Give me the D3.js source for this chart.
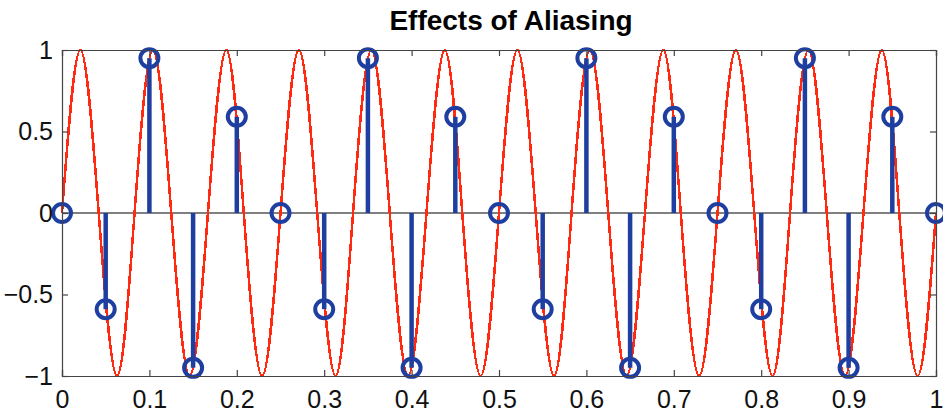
<!doctype html>
<html>
  <head>
    <style>
      body { margin: 0; background: white; }
      text { font-family: "Liberation Sans", Helvetica, Arial, sans-serif; }
      .tick text { font-size: 25px; fill: #111; }
    </style>
    <script src="https://d3js.org/d3.v7.min.js"></script>
  </head>
  <body>
    <div id="chart"></div>
    <script>
      var width = 943, height = 413;
      var margin = {top: 50, right: 7, bottom: 37, left: 62};

      // sampled signal (stems), every 0.05 s
      var sampleT = [0, 0.05, 0.1, 0.15, 0.2, 0.25, 0.3, 0.35, 0.4, 0.45, 0.5,
                     0.55, 0.6, 0.65, 0.7, 0.75, 0.8, 0.85, 0.9, 0.95, 1];
      var sampleY = [0, -0.59, 0.95, -0.95, 0.59, 0, -0.59, 0.95, -0.95, 0.59, 0,
                     -0.59, 0.95, -0.95, 0.59, 0, -0.59, 0.95, -0.95, 0.59, 0];

      // red wave: crests, troughs and zero crossings
      var waveT = [0, 0.021, 0.042, 0.063, 0.083, 0.104, 0.125, 0.146, 0.167, 0.188,
                   0.208, 0.229, 0.25, 0.271, 0.292, 0.313, 0.333, 0.354, 0.375, 0.396,
                   0.417, 0.438, 0.458, 0.479, 0.5, 0.521, 0.542, 0.563, 0.583, 0.604,
                   0.625, 0.646, 0.667, 0.688, 0.708, 0.729, 0.75, 0.771, 0.792, 0.813,
                   0.833, 0.854, 0.875, 0.896, 0.917, 0.938, 0.958, 0.979, 1];
      var waveY = [0, 1, 0, -1, 0, 1, 0, -1, 0, 1,
                   0, -1, 0, 1, 0, -1, 0, 1, 0, -1,
                   0, 1, 0, -1, 0, 1, 0, -1, 0, 1,
                   0, -1, 0, 1, 0, -1, 0, 1, 0, -1,
                   0, 1, 0, -1, 0, 1, 0, -1, 0];

      var xTicks = [0, 0.1, 0.2, 0.3, 0.4, 0.5, 0.6, 0.7, 0.8, 0.9, 1];
      var xTickLabels = ["0", "0.1", "0.2", "0.3", "0.4", "0.5", "0.6", "0.7", "0.8", "0.9", "1"];
      var yTicks = [-1, -0.5, 0, 0.5, 1];
      var yTickLabels = ["\u22121", "\u22120.5", "0", "0.5", "1"];

      var red = "#ff2a10", blue = "#1f3fa0";

      var svg = d3.select("#chart").append("svg")
                  .attr("width", width)
                  .attr("height", height);

      var x = d3.scaleLinear().domain([0, 1]).range([margin.left, width - margin.right]);
      var y = d3.scaleLinear().domain([-1, 1]).range([height - margin.bottom, margin.top]);

      // title
      svg.append("text")
         .attr("x", (x(0) + x(1)) / 2 + 12)
         .attr("y", 30)
         .attr("text-anchor", "middle")
         .style("font-size", "28px")
         .style("font-weight", "bold")
         .text("Effects of Aliasing");

      // zero baseline of the stems
      svg.append("line")
         .attr("x1", x(0)).attr("x2", x(1))
         .attr("y1", y(0)).attr("y2", y(0))
         .attr("stroke", "#000").attr("stroke-width", 1);

      // red wave
      var wave = d3.line()
                   .x(function(d, i) { return x(waveT[i]); })
                   .y(function(d) { return y(d); })
                   .curve(d3.curveNatural);
      svg.append("path")
         .attr("d", wave(waveY))
         .attr("fill", "none")
         .attr("stroke", red)
         .attr("stroke-width", 2.5)
         .attr("shape-rendering", "crispEdges");

      // stems
      svg.selectAll(".stem")
         .data(sampleY)
         .enter().append("line")
         .attr("class", "stem")
         .attr("x1", function(d, i) { return x(sampleT[i]); })
         .attr("x2", function(d, i) { return x(sampleT[i]); })
         .attr("y1", y(0))
         .attr("y2", function(d) { return y(d); })
         .attr("stroke", blue)
         .attr("stroke-width", 4.5);

      svg.selectAll(".mark")
         .data(sampleY)
         .enter().append("circle")
         .attr("class", "mark")
         .attr("cx", function(d, i) { return x(sampleT[i]); })
         .attr("cy", function(d) { return y(d); })
         .attr("r", 9)
         .attr("fill", "none")
         .attr("stroke", blue)
         .attr("stroke-width", 4);

      // axes, matlab box style with inward ticks
      var axisColor = "#444";
      var xBottom = d3.axisBottom(x).tickValues(xTicks).tickSize(-6).tickPadding(0)
                      .tickFormat(function(d, i) { return xTickLabels[i]; });
      var xTop = d3.axisTop(x).tickValues(xTicks).tickSize(-6).tickFormat("");
      var yLeft = d3.axisLeft(y).tickValues(yTicks).tickSize(-6).tickPadding(9)
                    .tickFormat(function(d, i) { return yTickLabels[i]; });
      var yRight = d3.axisRight(y).tickValues(yTicks).tickSize(-6).tickFormat("");

      var gb = svg.append("g").attr("transform", "translate(0," + y(-1) + ")").call(xBottom);
      var gt = svg.append("g").attr("transform", "translate(0," + y(1) + ")").call(xTop);
      var gl = svg.append("g").attr("transform", "translate(" + x(0) + ",0)").call(yLeft);
      var gr = svg.append("g").attr("transform", "translate(" + x(1) + ",0)").call(yRight);

      [gb, gt, gl, gr].forEach(function(g) {
        g.select(".domain").attr("stroke", axisColor).attr("stroke-width", 1.2);
        g.selectAll(".tick line").attr("stroke", axisColor).attr("stroke-width", 1.2);
        g.selectAll(".tick text").attr("fill", "#111");
      });
      gb.selectAll(".tick text").attr("y", 32).attr("dy", "0");
    </script>
  </body>
</html>
